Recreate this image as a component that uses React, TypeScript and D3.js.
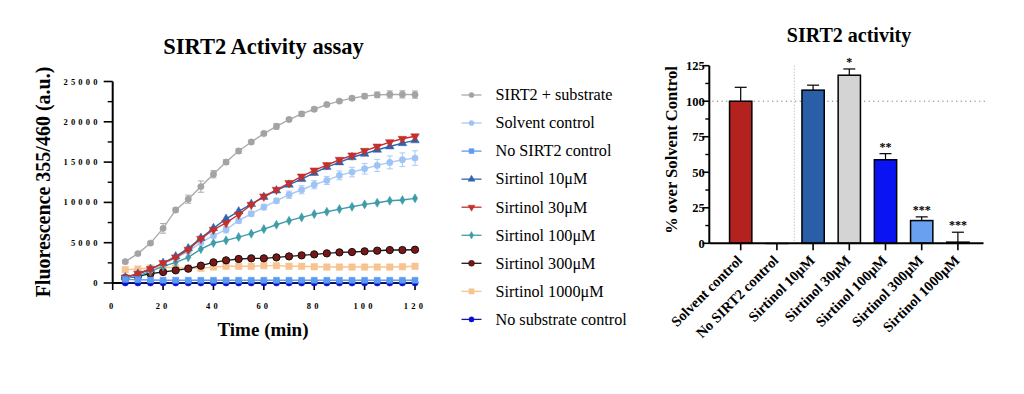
import React from "react";
import * as d3 from "d3";

// ---------- Left chart data ----------
const times = [5, 10, 15, 20, 25, 30, 35, 40, 45, 50, 55, 60, 65, 70, 75, 80, 85, 90, 95, 100, 105, 110, 115, 120];
const sirt2Substrate = [2650, 3650, 4950, 6780, 9060, 10400, 11960, 13500, 15000, 16380, 17490, 18540, 19430, 20280, 20980, 21560, 22140, 22570, 22930, 23180, 23340, 23390, 23400, 23370];
const sirt2SubstrateErr = [150, 150, 200, 600, 250, 500, 700, 450, 300, 300, 200, 250, 350, 200, 300, 250, 200, 200, 250, 300, 350, 450, 450, 450];
const solventControl = [620, 1030, 1650, 2400, 3100, 3930, 5040, 5870, 6610, 7730, 8590, 9420, 10200, 10950, 11570, 12190, 12730, 13350, 13760, 14170, 14590, 14960, 15290, 15500];
const solventControlErr = [100, 100, 150, 150, 200, 250, 300, 250, 400, 300, 300, 350, 300, 450, 500, 500, 500, 550, 600, 650, 750, 800, 850, 900];
const noSirt2Control = [450, 400, 370, 350, 340, 340, 340, 340, 340, 340, 340, 340, 340, 340, 340, 340, 340, 340, 340, 340, 340, 340, 340, 340];
const sirtinol10 = [700, 1150, 1735, 2480, 3300, 4300, 5580, 6800, 7950, 8880, 9800, 10680, 11480, 12200, 12900, 13650, 14380, 14960, 15600, 16030, 16530, 16940, 17350, 17700];
const sirtinol30 = [700, 1150, 1735, 2480, 3180, 4130, 5500, 6610, 7450, 8500, 9710, 10740, 11570, 12400, 13220, 13970, 14630, 15290, 15830, 16400, 16940, 17480, 17890, 18200];
const sirtinol100 = [620, 900, 1450, 2070, 2560, 3180, 4210, 4960, 5290, 5700, 6120, 6690, 7230, 7730, 8140, 8550, 8840, 9170, 9460, 9750, 9960, 10210, 10290, 10500];
const sirtinol300 = [620, 830, 1160, 1360, 1570, 1780, 2150, 2560, 2810, 2980, 3060, 3060, 3180, 3300, 3430, 3550, 3680, 3800, 3840, 3930, 4010, 4090, 4090, 4130];
const sirtinol1000 = [1650, 1735, 1860, 1980, 1860, 1860, 1820, 1980, 2070, 2070, 2070, 2150, 2150, 2070, 2070, 2020, 1980, 1980, 1980, 1980, 1980, 1980, 2020, 2070];
const noSubstrate = [20, 20, 20, 20, 20, 20, 20, 20, 20, 20, 20, 20, 20, 20, 20, 20, 20, 20, 20, 20, 20, 20, 20, 20];

const legendLabels = [
  "SIRT2 + substrate",
  "Solvent control",
  "No SIRT2 control",
  "Sirtinol 10\u03bcM",
  "Sirtinol 30\u03bcM",
  "Sirtinol 100\u03bcM",
  "Sirtinol 300\u03bcM",
  "Sirtinol 1000\u03bcM",
  "No substrate control",
];
const xTicks = [0, 20, 40, 60, 80, 100, 120];
const yTicks = [0, 5000, 10000, 15000, 20000, 25000];
const yMinorTicks = [2500, 7500, 12500, 17500, 22500];

// ---------- Right chart data ----------
const barCategories = [
  "Solvent control",
  "No SIRT2 control",
  "Sirtinol 10\u03bcM",
  "Sirtinol 30\u03bcM",
  "Sirtinol 100\u03bcM",
  "Sirtinol 300\u03bcM",
  "Sirtinol 1000\u03bcM",
];
const barValues = [100, 0, 107.8, 118.3, 58.8, 16, 0.8];
const barErrors = [9.8, 0, 3.5, 4.4, 4.3, 2.6, 7.0];
const barStars = ["", "", "", "*", "**", "***", "***"];
const barTicks = [0, 25, 50, 75, 100, 125];
const barMinorTicks = [12.5, 37.5, 62.5, 87.5, 112.5];

type Series = {
  values: number[];
  err?: number[];
  line: string;
  fill: string;
  stroke: string;
  symbol: d3.SymbolType;
  size: number;
  rotate?: number;
};

const seriesList: Series[] = [
  { values: sirt2Substrate, err: sirt2SubstrateErr, line: "#ababab", fill: "#a3a3a3", stroke: "#a3a3a3", symbol: d3.symbolCircle, size: 32 },
  { values: solventControl, err: solventControlErr, line: "#a9c9f5", fill: "#9ec4f7", stroke: "#9ec4f7", symbol: d3.symbolCircle, size: 32 },
  { values: noSirt2Control, line: "#5b9bf0", fill: "#5b9bf0", stroke: "#5b9bf0", symbol: d3.symbolSquare, size: 36 },
  { values: sirtinol10, line: "#2f63b0", fill: "#2f63b0", stroke: "#2f63b0", symbol: d3.symbolTriangle, size: 32 },
  { values: sirtinol30, line: "#c4302b", fill: "#c4302b", stroke: "#c4302b", symbol: d3.symbolTriangle, size: 32, rotate: 180 },
  { values: sirtinol100, line: "#3d9ca8", fill: "#3d9ca8", stroke: "#3d9ca8", symbol: d3.symbolDiamond, size: 24 },
  { values: sirtinol300, line: "#1a1a1a", fill: "#7a1616", stroke: "#111", symbol: d3.symbolCircle, size: 42 },
  { values: sirtinol1000, line: "#f7c38e", fill: "#f7c38e", stroke: "#f7c38e", symbol: d3.symbolSquare, size: 42 },
  { values: noSubstrate, line: "#1a1a90", fill: "#0a10d0", stroke: "#0a10d0", symbol: d3.symbolCircle, size: 32 },
];

const barColors = ["#b3221f", "#ffffff", "#2b5ea8", "#d4d4d4", "#0a14f2", "#6aa0f0", "#ffffff"];

const serif = "'Liberation Serif', 'Times New Roman', serif";

function LeftChart() {
  const x = d3.scaleLinear().domain([0, 120]).range([112.7, 415]);
  const y = d3.scaleLinear().domain([0, 25000]).range([283, 81.5]);
  const line = d3
    .line<number>()
    .x((_, i) => x(times[i]))
    .y((v) => y(v));
  const order = [0, 7, 6, 5, 1, 3, 4, 8, 2];
  return (
    <g>
      <text x={263.5} y={54} textAnchor="middle" fontFamily={serif} fontWeight="bold" fontSize={22.5}>
        SIRT2 Activity assay
      </text>
      {/* y axis */}
      <line x1={x(0)} x2={x(0)} y1={y(25000)} y2={y(0)} stroke="#000" strokeWidth={2} />
      {yTicks.map((t) => (
        <g key={"yt" + t}>
          <line x1={x(0) - 9} x2={x(0)} y1={y(t)} y2={y(t)} stroke="#000" strokeWidth={1.6} />
          <text
            x={x(0) - 12}
            y={y(t) + 3}
            textAnchor="end"
            fontFamily={serif}
            fontWeight="bold"
            fontSize={8.5}
            letterSpacing={3.2}
          >
            {t}
          </text>
        </g>
      ))}
      {yMinorTicks.map((t) => (
        <line key={"ym" + t} x1={x(0) - 5} x2={x(0)} y1={y(t)} y2={y(t)} stroke="#000" strokeWidth={1.4} />
      ))}
      {/* x axis */}
      <line x1={x(0)} x2={x(120)} y1={y(0)} y2={y(0)} stroke="#000" strokeWidth={2} />
      {xTicks.map((t) => (
        <g key={"xt" + t}>
          <line x1={x(t)} x2={x(t)} y1={y(0)} y2={y(0) + 7} stroke="#000" strokeWidth={1.6} />
          <text
            x={x(t)}
            y={y(0) + 26}
            textAnchor="middle"
            fontFamily={serif}
            fontWeight="bold"
            fontSize={8.5}
            letterSpacing={3.2}
          >
            {t}
          </text>
        </g>
      ))}
      <text x={263} y={336} textAnchor="middle" fontFamily={serif} fontWeight="bold" fontSize={19}>
        Time (min)
      </text>
      <text
        transform={`translate(50,${182}) rotate(-90)`}
        textAnchor="middle"
        fontFamily={serif}
        fontWeight="bold"
        fontSize={20}
      >
        Fluorescence 355/460 (a.u.)
      </text>
      {/* series */}
      {order.map((si) => {
        const s = seriesList[si];
        const sym = d3.symbol().type(s.symbol).size(s.size)() as string;
        return (
          <g key={"s" + si}>
            <path d={line(s.values) as string} fill="none" stroke={s.line} strokeWidth={1.4} />
            {s.err &&
              s.values.map((v, i) => {
                const e = s.err![i];
                const cx = x(times[i]);
                return (
                  <g key={"e" + i} stroke={s.line} strokeWidth={1}>
                    <line x1={cx} x2={cx} y1={y(v + e)} y2={y(v - e)} />
                    <line x1={cx - 3} x2={cx + 3} y1={y(v + e)} y2={y(v + e)} />
                    <line x1={cx - 3} x2={cx + 3} y1={y(v - e)} y2={y(v - e)} />
                  </g>
                );
              })}
            {s.values.map((v, i) => (
              <path
                key={"m" + i}
                d={sym}
                transform={`translate(${x(times[i])},${y(v)}) rotate(${s.rotate || 0})`}
                fill={s.fill}
                stroke={s.stroke}
                strokeWidth={si === 6 ? 1 : 0.5}
              />
            ))}
          </g>
        );
      })}
    </g>
  );
}

function Legend() {
  const y0 = 95;
  const step = 28.05;
  return (
    <g>
      {legendLabels.map((lab, i) => {
        const s = seriesList[i];
        const cy = y0 + i * step;
        const sym = d3.symbol().type(s.symbol).size(s.size * 0.65)() as string;
        return (
          <g key={"lg" + i}>
            <line x1={461.5} x2={481.5} y1={cy} y2={cy} stroke={s.line} strokeWidth={1.3} />
            <path
              d={sym}
              transform={`translate(471.5,${cy}) rotate(${s.rotate || 0})`}
              fill={s.fill}
              stroke={s.stroke}
              strokeWidth={0.5}
            />
            <text x={495.5} y={cy + 5.3} fontFamily={serif} fontSize={16.2}>
              {lab}
            </text>
          </g>
        );
      })}
    </g>
  );
}

function RightChart() {
  const x = d3.scaleBand<string>().domain(barCategories).range([722.6, 976]).paddingInner(0.384).paddingOuter(0.192);
  const y = d3.scaleLinear().domain([0, 125]).range([243.3, 65.7]);
  const x0 = 709.3;
  return (
    <g>
      <text x={849} y={42} textAnchor="middle" fontFamily={serif} fontWeight="bold" fontSize={20}>
        SIRT2 activity
      </text>
      {/* reference lines */}
      <line x1={x0 + 3} x2={985} y1={y(100)} y2={y(100)} stroke="#777" strokeWidth={1} strokeDasharray="1.2,3.4" />
      <line x1={794.3} x2={794.3} y1={y(125)} y2={y(0)} stroke="#aaa" strokeWidth={1} strokeDasharray="1,2" />
      {/* bars */}
      {barCategories.map((c, i) => {
        const bx = x(c)!;
        const bw = x.bandwidth();
        const v = barValues[i];
        const e = barErrors[i];
        const cx = bx + bw / 2;
        return (
          <g key={"b" + i}>
            {e > 0 && (
              <g stroke="#000" strokeWidth={1.2}>
                <line x1={cx} x2={cx} y1={y(v)} y2={y(v + e)} />
                <line x1={cx - 6} x2={cx + 6} y1={y(v + e)} y2={y(v + e)} />
              </g>
            )}
            <rect
              x={bx}
              y={y(v)}
              width={bw}
              height={Math.max(0.5, y(0) - y(v))}
              fill={barColors[i]}
              stroke="#000"
              strokeWidth={v > 0 ? 1.5 : 0.8}
            />
            {barStars[i] && (
              <text
                x={cx}
                y={y(v + e) - 3}
                textAnchor="middle"
                fontFamily={serif}
                fontWeight="bold"
                fontSize={12}
              >
                {barStars[i]}
              </text>
            )}
          </g>
        );
      })}
      {/* y axis */}
      <line x1={x0} x2={x0} y1={y(125)} y2={y(0)} stroke="#000" strokeWidth={2} />
      {barTicks.map((t) => (
        <g key={"bt" + t}>
          <line x1={x0 - 7} x2={x0} y1={y(t)} y2={y(t)} stroke="#000" strokeWidth={1.6} />
          <text x={x0 - 4.5} y={y(t) + 4.5} textAnchor="end" fontFamily={serif} fontWeight="bold" fontSize={12.5}>
            {t}
          </text>
        </g>
      ))}
      {barMinorTicks.map((t) => (
        <line key={"bm" + t} x1={x0 - 4} x2={x0} y1={y(t)} y2={y(t)} stroke="#000" strokeWidth={1.4} />
      ))}
      {/* x axis */}
      <line x1={x0} x2={983.5} y1={y(0)} y2={y(0)} stroke="#000" strokeWidth={2} />
      {barCategories.map((c) => {
        const cx = x(c)! + x.bandwidth() / 2;
        return (
          <g key={"xl" + c}>
            <line x1={cx} x2={cx} y1={y(0)} y2={y(0) + 7} stroke="#000" strokeWidth={1.6} />
            <text
              transform={`translate(${cx + 2.5},${y(0) + 18}) rotate(-45)`}
              textAnchor="end"
              fontFamily={serif}
              fontWeight="bold"
              fontSize={14.5}
            >
              {c}
            </text>
          </g>
        );
      })}
      <text
        transform={`translate(676.5,150) rotate(-90)`}
        textAnchor="middle"
        fontFamily={serif}
        fontWeight="bold"
        fontSize={16.6}
      >
        % over Solvent Control
      </text>
    </g>
  );
}

export default function App() {
  return (
    <svg
      width={1024}
      height={394}
      viewBox="0 0 1024 394"
      style={{ position: "absolute", left: 0, top: 0, background: "#fff", display: "block" }}
    >
      <rect width={1024} height={394} fill="#fff" />
      <LeftChart />
      <Legend />
      <RightChart />
    </svg>
  );
}
